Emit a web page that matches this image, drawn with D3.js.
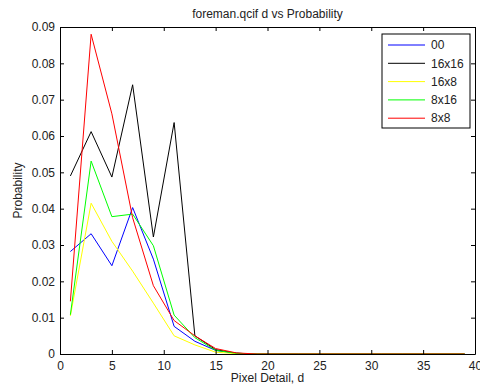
<!DOCTYPE html>
<html>
<head>
<meta charset="utf-8">
<script src="https://cdn.jsdelivr.net/npm/d3@7"></script>
<style>
  body { margin: 0; background: #fff; }
  svg { display: block; font-family: "Liberation Sans", Arial, sans-serif; }
</style>
</head>
<body>
<div id="chart"></div>
<script>
// pixel detail values d (odd numbers 1..39)
const dValues = d3.range(1, 40, 2);

const seriesNames = ["00", "16x16", "16x8", "8x16", "8x8"];
const seriesColors = ["#0000ff", "#000000", "#ffff00", "#00ff00", "#ff0000"];

const zeros = n => new Array(n).fill(0);
const p00 =    [0.0282, 0.0331, 0.0243, 0.0403, 0.0261, 0.0076, 0.0035, 0.0010, 0.0002].concat(zeros(11));
const p16x16 = [0.0490, 0.0612, 0.0487, 0.0741, 0.0322, 0.0637, 0.0050, 0.0012, 0.0002].concat(zeros(11));
const p16x8 =  [0.0105, 0.0415, 0.0310, 0.0228, 0.0140, 0.0050, 0.0025, 0.0005, 0.0001].concat(zeros(11));
const p8x16 =  [0.0108, 0.0531, 0.0378, 0.0385, 0.0298, 0.0107, 0.0045, 0.0010, 0.0002].concat(zeros(11));
const p8x8 =   [0.0145, 0.0880, 0.0661, 0.0375, 0.0188, 0.0092, 0.0050, 0.0015, 0.0003].concat(zeros(11));
const seriesValues = [p00, p16x16, p16x8, p8x16, p8x8];

const xTicks = d3.range(0, 41, 5);
const yTicks = d3.range(0, 0.0901, 0.01);

const width = 480, height = 387;
const margin = { top: 27, right: 5, bottom: 33, left: 60 };
const fontSize = 12;

const svg = d3.select("#chart").append("svg")
  .attr("width", width)
  .attr("height", height);

const x = d3.scaleLinear().domain([0, 40]).range([margin.left, width - margin.right]);
const y = d3.scaleLinear().domain([0, 0.09]).range([height - margin.bottom, margin.top]);

// lines
const line = d3.line()
  .x((d, i) => x(dValues[i]))
  .y(d => y(d));

svg.append("g")
  .selectAll("path")
  .data(seriesValues)
  .join("path")
  .attr("fill", "none")
  .attr("stroke", (d, i) => seriesColors[i])
  .attr("stroke-width", 1)
  .attr("d", line);

// axes (ticks inside, box style)
const fmtY = d => d === 0 ? "0" : d3.format(".2f")(d);
const tickLen = 4;

svg.append("g")
  .attr("transform", `translate(0,${y(0)})`)
  .call(d3.axisBottom(x).tickValues(xTicks).tickSizeInner(-tickLen).tickSizeOuter(0).tickPadding(7))
  .call(g => g.selectAll("text").attr("font-size", fontSize).attr("fill", "#222"));

svg.append("g")
  .attr("transform", `translate(0,${y(0.09)})`)
  .call(d3.axisTop(x).tickValues(xTicks).tickSizeInner(-tickLen).tickSizeOuter(0).tickFormat(""));

svg.append("g")
  .attr("transform", `translate(${x(0)},0)`)
  .call(d3.axisLeft(y).tickValues(yTicks).tickSizeInner(-tickLen).tickSizeOuter(0).tickPadding(5).tickFormat(fmtY))
  .call(g => g.selectAll("text").attr("font-size", fontSize).attr("fill", "#222"));

svg.append("g")
  .attr("transform", `translate(${x(40)},0)`)
  .call(d3.axisRight(y).tickValues(yTicks).tickSizeInner(-tickLen).tickSizeOuter(0).tickFormat(""));

svg.selectAll(".domain").attr("stroke", "#000");

// titles
svg.append("text")
  .attr("x", (x(0) + x(40)) / 2)
  .attr("y", 18)
  .attr("text-anchor", "middle")
  .attr("font-size", fontSize)
  .attr("fill", "#222")
  .text("foreman.qcif d vs Probability");

svg.append("text")
  .attr("x", (x(0) + x(40)) / 2)
  .attr("y", 382)
  .attr("text-anchor", "middle")
  .attr("font-size", fontSize)
  .attr("fill", "#222")
  .text("Pixel Detail, d");

svg.append("text")
  .attr("transform", `translate(22,${(y(0) + y(0.09)) / 2}) rotate(-90)`)
  .attr("text-anchor", "middle")
  .attr("font-size", fontSize)
  .attr("fill", "#222")
  .text("Probability");

// legend
const legend = svg.append("g").attr("transform", "translate(382,34)");
legend.append("rect")
  .attr("width", 88)
  .attr("height", 94)
  .attr("fill", "#fff")
  .attr("stroke", "#000");

const item = legend.selectAll("g.item")
  .data(seriesNames)
  .join("g")
  .attr("class", "item")
  .attr("transform", (d, i) => `translate(0,${11 + i * 18.3})`);

item.append("line")
  .attr("x1", 6).attr("x2", 43)
  .attr("stroke", (d, i) => seriesColors[i]);

item.append("text")
  .attr("x", 49)
  .attr("dy", "0.35em")
  .attr("font-size", fontSize)
  .attr("fill", "#222")
  .text(d => d);
</script>
</body>
</html>
